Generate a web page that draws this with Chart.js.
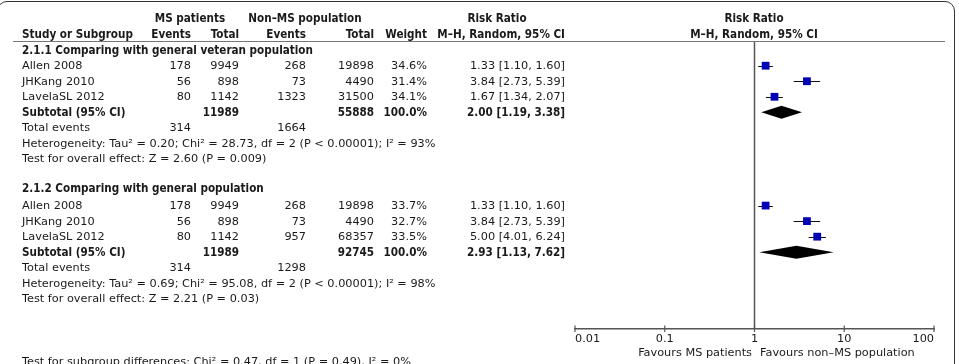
<!DOCTYPE html>
<html>
<head>
<meta charset="utf-8">
<script src="https://cdn.jsdelivr.net/npm/chart.js@4"></script>
<style>
  html, body { margin: 0; padding: 0; background: #fff; }
  body { width: 959px; height: 364px; position: relative; overflow: hidden; font-family: 'DejaVu Sans', sans-serif; font-size: 11.3px; color: #1a1a1a; }
  #frame { position: absolute; left: -3px; top: 1px; width: 958px; height: 420px; border: 1.5px solid #333; border-radius: 10px; box-sizing: border-box; }
  #hline { position: absolute; left: 13px; top: 41px; width: 932px; height: 0; border-top: 1.5px solid #777; }
  .t { position: absolute; white-space: pre; line-height: 13px; height: 13px; }
  .b { font-family: 'DejaVu Sans Condensed', 'DejaVu Sans', sans-serif; font-weight: bold; font-size: 11.6px; }
  canvas { position: absolute; left: 0; top: 0; }
</style>
</head>
<body>
<div id="frame"></div>
<canvas id="forest" width="959" height="364"></canvas>
<div id="hline"></div>
<div id="texto"></div>
<script>
// dados
const estudos = ['Allen 2008', 'JHKang 2010', 'LavelaSL 2012'];
const grupos = ['2.1.1 Comparing with general veteran population', '2.1.2 Comparing with general population'];

const eventosMS = [[178, 56, 80], [178, 56, 80]];
const totalMS = [[9949, 898, 1142], [9949, 898, 1142]];
const eventosNaoMS = [[268, 73, 1323], [268, 73, 957]];
const totalNaoMS = [[19898, 4490, 31500], [19898, 4490, 68357]];
const pesos = [[34.6, 31.4, 34.1], [33.7, 32.7, 33.5]];
const rr = [[1.33, 3.84, 1.67], [1.33, 3.84, 5.00]];
const rrInf = [[1.10, 2.73, 1.34], [1.10, 2.73, 4.01]];
const rrSup = [[1.60, 5.39, 2.07], [1.60, 5.39, 6.24]];

const subtotalMS = [11989, 11989];
const subtotalNaoMS = [55888, 92745];
const subtotalRR = [2.00, 2.93];
const subtotalInf = [1.19, 1.13];
const subtotalSup = [3.38, 7.62];
const totalEventosMS = [314, 314];
const totalEventosNaoMS = [1664, 1298];
const heterogeneidade = [
    'Heterogeneity: Tau² = 0.20; Chi² = 28.73, df = 2 (P < 0.00001); I² = 93%',
    'Heterogeneity: Tau² = 0.69; Chi² = 95.08, df = 2 (P < 0.00001); I² = 98%'
];
const efeitoGeral = ['Test for overall effect: Z = 2.60 (P = 0.009)', 'Test for overall effect: Z = 2.21 (P = 0.03)'];
const testeSubgrupos = 'Test for subgroup differences: Chi² = 0.47, df = 1 (P = 0.49), I² = 0%';

const ticksX = [0.01, 0.1, 1, 10, 100];
const rotulosX = ['0.01', '0.1', '1', '10', '100'];

// linhas de cada grupo (indice de linha na grade)
const linhaGrupo = [0, 8.9];
const linhaEstudos = [[1, 2, 3], [10, 11, 12]];
const linhaSubtotal = [4, 13];

function yLinha(r) {
    return 50.15 + r * 15.545;
}

function texto(str, x, y, alinhamento, negrito) {
    const div = document.createElement('div');
    div.className = 't' + (negrito ? ' b' : '');
    div.textContent = str;
    div.style.top = (y - 6.5) + 'px';
    if (alinhamento === 'right') {
        div.style.right = (959 - x) + 'px';
    } else if (alinhamento === 'center') {
        div.style.left = (x - 200) + 'px';
        div.style.width = '400px';
        div.style.textAlign = 'center';
    } else {
        div.style.left = x + 'px';
    }
    document.getElementById('texto').appendChild(div);
}

function fmt(v) {
    return v.toFixed(2);
}

function preencherTabela() {
    texto('MS patients', 190, 18, 'center', true);
    texto('Non–MS population', 305, 18, 'center', true);
    texto('Risk Ratio', 497, 18, 'center', true);
    texto('Risk Ratio', 754, 18, 'center', true);
    texto('Study or Subgroup', 22, 34, 'left', true);
    texto('Events', 191, 34, 'right', true);
    texto('Total', 239, 34, 'right', true);
    texto('Events', 306, 34, 'right', true);
    texto('Total', 374, 34, 'right', true);
    texto('Weight', 427, 34, 'right', true);
    texto('M–H, Random, 95% CI', 565, 34, 'right', true);
    texto('M–H, Random, 95% CI', 754, 34, 'center', true);

    for (let g = 0; g < grupos.length; g++) {
        texto(grupos[g], 22, yLinha(linhaGrupo[g]), 'left', true);
        for (let i = 0; i < estudos.length; i++) {
            const y = yLinha(linhaEstudos[g][i]);
            texto(estudos[i], 22, y, 'left');
            texto(String(eventosMS[g][i]), 191, y, 'right');
            texto(String(totalMS[g][i]), 239, y, 'right');
            texto(String(eventosNaoMS[g][i]), 306, y, 'right');
            texto(String(totalNaoMS[g][i]), 374, y, 'right');
            texto(pesos[g][i].toFixed(1) + '%', 427, y, 'right');
            texto(`${fmt(rr[g][i])} [${fmt(rrInf[g][i])}, ${fmt(rrSup[g][i])}]`, 565, y, 'right');
        }
        let y = yLinha(linhaSubtotal[g]);
        texto('Subtotal (95% CI)', 22, y, 'left', true);
        texto(String(subtotalMS[g]), 239, y, 'right', true);
        texto(String(subtotalNaoMS[g]), 374, y, 'right', true);
        texto('100.0%', 427, y, 'right', true);
        texto(`${fmt(subtotalRR[g])} [${fmt(subtotalInf[g])}, ${fmt(subtotalSup[g])}]`, 565, y, 'right', true);
        y = yLinha(linhaSubtotal[g] + 1);
        texto('Total events', 22, y, 'left');
        texto(String(totalEventosMS[g]), 191, y, 'right');
        texto(String(totalEventosNaoMS[g]), 306, y, 'right');
        texto(heterogeneidade[g], 22, yLinha(linhaSubtotal[g] + 2), 'left');
        texto(efeitoGeral[g], 22, yLinha(linhaSubtotal[g] + 3), 'left');
    }
    texto(testeSubgrupos, 22, 361, 'left');
    texto('Favours MS patients', 752, 352, 'right');
    texto('Favours non–MS population', 760, 352, 'left');
}

const pluginForest = {
    id: 'forest',
    beforeDatasetsDraw(chart) {
        const { ctx, chartArea, scales: { x, y } } = chart;
        ctx.save();
        // linha de nulidade
        const x1 = x.getPixelForValue(1);
        ctx.strokeStyle = '#555';
        ctx.lineWidth = 1.5;
        ctx.beginPath();
        ctx.moveTo(x1, chartArea.top);
        ctx.lineTo(x1, chartArea.bottom);
        ctx.stroke();
        // marcas do eixo cruzando a linha
        ctx.lineWidth = 1.2;
        for (const v of ticksX) {
            const px = x.getPixelForValue(v);
            ctx.beginPath();
            ctx.moveTo(px, chartArea.bottom - 3.5);
            ctx.lineTo(px, chartArea.bottom + 3);
            ctx.stroke();
        }
        // intervalos de confianca
        ctx.strokeStyle = '#111';
        ctx.lineWidth = 1;
        for (let g = 0; g < grupos.length; g++) {
            for (let i = 0; i < estudos.length; i++) {
                const py = Math.round(y.getPixelForValue(linhaEstudos[g][i])) + 0.5;
                ctx.beginPath();
                ctx.moveTo(x.getPixelForValue(rrInf[g][i]), py);
                ctx.lineTo(x.getPixelForValue(rrSup[g][i]), py);
                ctx.stroke();
            }
            // losango do subtotal
            const py = y.getPixelForValue(linhaSubtotal[g]);
            ctx.fillStyle = '#000';
            ctx.beginPath();
            ctx.moveTo(x.getPixelForValue(subtotalInf[g]), py);
            ctx.lineTo(x.getPixelForValue(subtotalRR[g]), py - 6.5);
            ctx.lineTo(x.getPixelForValue(subtotalSup[g]), py);
            ctx.lineTo(x.getPixelForValue(subtotalRR[g]), py + 6.5);
            ctx.closePath();
            ctx.fill();
        }
        ctx.restore();
    }
};

function criarGrafico() {
    Chart.defaults.font.family = "'DejaVu Sans', sans-serif";
    Chart.defaults.font.size = 11.3;
    Chart.defaults.color = '#1a1a1a';

    const pontos = [];
    for (let g = 0; g < grupos.length; g++) {
        for (let i = 0; i < estudos.length; i++) {
            pontos.push({ x: rr[g][i], y: linhaEstudos[g][i] });
        }
    }

    new Chart(document.getElementById('forest'), {
        type: 'scatter',
        data: {
            datasets: [{
                label: 'Risk Ratio',
                data: pontos,
                pointStyle: 'rect',
                pointRadius: 5.5,
                backgroundColor: '#0000b4',
                borderWidth: 0
            }]
        },
        options: {
            responsive: false,
            animation: false,
            layout: { padding: { left: 575, right: 25, top: 41, bottom: 0 } },
            plugins: { legend: { display: false }, tooltip: { enabled: false } },
            scales: {
                x: {
                    type: 'logarithmic',
                    min: 0.01,
                    max: 100,
                    afterBuildTicks: (s) => { s.ticks = ticksX.map(v => ({ value: v })); },
                    afterFit: (s) => { s.height = 35; },
                    grid: { display: false, drawTicks: false },
                    border: { display: true, color: '#555', width: 1.5 },
                    ticks: {
                        align: 'inner',
                        padding: 3,
                        maxRotation: 0,
                        autoSkip: false,
                        callback: (v, i) => rotulosX[i]
                    }
                },
                y: {
                    type: 'linear',
                    reverse: true,
                    min: -0.589,
                    max: 17.94,
                    display: false
                }
            }
        },
        plugins: [pluginForest]
    });
}

preencherTabela();
criarGrafico();
</script>
</body>
</html>
